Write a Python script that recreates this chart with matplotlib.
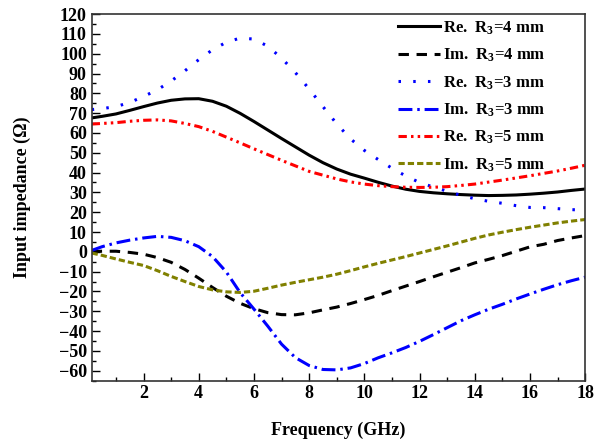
import numpy as np
import matplotlib
matplotlib.use("Agg")
import matplotlib.pyplot as plt
from matplotlib.ticker import MultipleLocator

plt.rcParams['font.family'] = ['Liberation Serif', 'DejaVu Serif']
plt.rcParams['font.weight'] = 'bold'
plt.rcParams['mathtext.fontset'] = 'custom'
plt.rcParams['mathtext.rm'] = 'Liberation Serif:bold'
plt.rcParams['mathtext.it'] = 'Liberation Serif:bold'
plt.rcParams['mathtext.bf'] = 'Liberation Serif:bold'
plt.rcParams['lines.scale_dashes'] = False

# frequency grid (GHz)
freq = np.r_[0.12, np.arange(0.5, 18.01, 0.5)]

# values (Ohm)
re_r4 = [67.6, 68.4, 69.6, 71.4, 73.3, 75.1, 76.5, 77.2, 77.3, 76.0, 73.5, 69.9, 65.8,
         61.5, 57.2, 53.0, 48.8, 45.0, 41.8, 39.2, 37.2, 35.1, 33.2, 31.6, 30.5, 29.8,
         29.3, 28.9, 28.6, 28.4, 28.5, 28.7, 29.1, 29.6, 30.2, 31.0, 31.7]
im_r4 = [0.2, 0.3, 0.3, -0.3, -1.2, -2.9, -5.3, -8.9, -13.3, -18.0, -22.4, -26.0, -28.7,
         -30.7, -31.7, -31.8, -30.8, -29.3, -27.9, -26.1, -24.1, -22.0, -19.6, -17.3, -15.0,
         -12.6, -10.3, -8.0, -5.6, -3.8, -1.9, 0.3, 2.5, 3.8, 5.7, 7.0, 8.2]
re_r3 = [71.8, 72.3, 73.3, 75.4, 78.4, 81.8, 86.2, 91.4, 97.0, 102.0, 105.8, 107.9, 107.4,
         103.8, 97.8, 90.5, 82.2, 73.3, 64.6, 57.0, 51.2, 46.6, 42.2, 38.3, 35.0, 32.7,
         30.6, 28.5, 26.8, 25.5, 24.5, 23.3, 22.4, 22.3, 21.8, 21.3, 21.0]
im_r3 = [0.7, 2.6, 4.5, 5.9, 7.0, 7.8, 7.3, 5.6, 2.6, -2.4, -10.2, -20.6, -28.9,
         -37.5, -46.6, -53.4, -57.4, -59.4, -59.6, -58.6, -56.4, -53.5, -51.0, -48.3, -45.2,
         -41.8, -38.3, -34.8, -31.8, -29.0, -26.5, -23.8, -21.3, -18.9, -16.6, -14.6, -12.8]
re_r5 = [64.5, 64.8, 65.2, 65.9, 66.4, 66.6, 66.1, 64.8, 63.2, 60.8, 57.9, 55.0, 52.0,
         49.1, 46.2, 43.4, 40.6, 38.7, 36.8, 35.3, 34.2, 33.4, 32.9, 32.6, 32.5, 32.6,
         32.9, 33.5, 34.2, 35.2, 36.2, 37.3, 38.4, 39.6, 40.8, 42.2, 43.7]
im_r5 = [-0.6, -1.8, -3.6, -5.3, -6.9, -9.5, -12.4, -15.0, -17.5, -19.2, -20.2, -20.5, -19.9,
         -18.4, -16.8, -15.4, -14.1, -12.8, -11.3, -9.5, -7.6, -5.8, -4.1, -2.4, -0.6,
         1.2, 3.0, 4.9, 6.8, 8.5, 9.9, 11.2, 12.4, 13.5, 14.6, 15.5, 16.3]

labels = [r'Re.  R$_3$=4 mm', r'Im.  R$_3$=4 mm', r'Re.  R$_3$=3 mm',
          r'Im.  R$_3$=3 mm', r'Re.  R$_3$=5 mm', r'Im.  R$_3$=5 mm']

fig = plt.figure(figsize=(6.07, 4.41), dpi=100)
ax = fig.add_axes([0.151, 0.137, 0.813, 0.831])

lw = 2.2
ax.plot(freq, re_r4, color='black', lw=lw, ls='-', label=labels[0])
ax.plot(freq, im_r4, color='black', lw=lw, ls=(0, (7.5, 5.5)), label=labels[1])
ax.plot(freq, re_r3, color='#0000ff', lw=lw, ls=(0, (1.8, 8.8)), label=labels[2])
ax.plot(freq, im_r3, color='#0000ff', lw=lw, ls=(0, (10, 3.5, 1.8, 3.5)), label=labels[3])
ax.plot(freq, re_r5, color='#ff0000', lw=lw, ls=(0, (6, 3, 1.8, 3, 1.8, 3)), label=labels[4])
ax.plot(freq, im_r5, color='#808000', lw=lw, ls=(0, (4.5, 2.2)), label=labels[5])

ax.set_xlim(0.12, 18)
ax.set_ylim(-65, 120)
ax.xaxis.set_major_locator(MultipleLocator(2))
ax.xaxis.set_minor_locator(MultipleLocator(1))
ax.yaxis.set_major_locator(MultipleLocator(10))
ax.yaxis.set_minor_locator(MultipleLocator(5))
ax.set_xticks([2, 4, 6, 8, 10, 12, 14, 16, 18])
ax.tick_params(which='both', direction='in', top=False, right=False, labelsize=13)
ax.tick_params(which='major', length=6, width=1)
ax.tick_params(which='minor', length=3, width=1)
for s in ax.spines.values():
    s.set_color('#333333')
    s.set_linewidth(1.2)

ax.set_xlabel('Frequency (GHz)', fontsize=13, fontweight='bold', labelpad=14)
ax.set_ylabel('Input impedance (Ω)', fontsize=13, fontweight='bold', labelpad=20)

ax.legend(loc='upper right', bbox_to_anchor=(0.934, 1.004), frameon=False, fontsize=12,
          handlelength=2.5, handletextpad=0.2, labelspacing=0.6, borderaxespad=0)

fig.savefig('out.png', dpi=100)
